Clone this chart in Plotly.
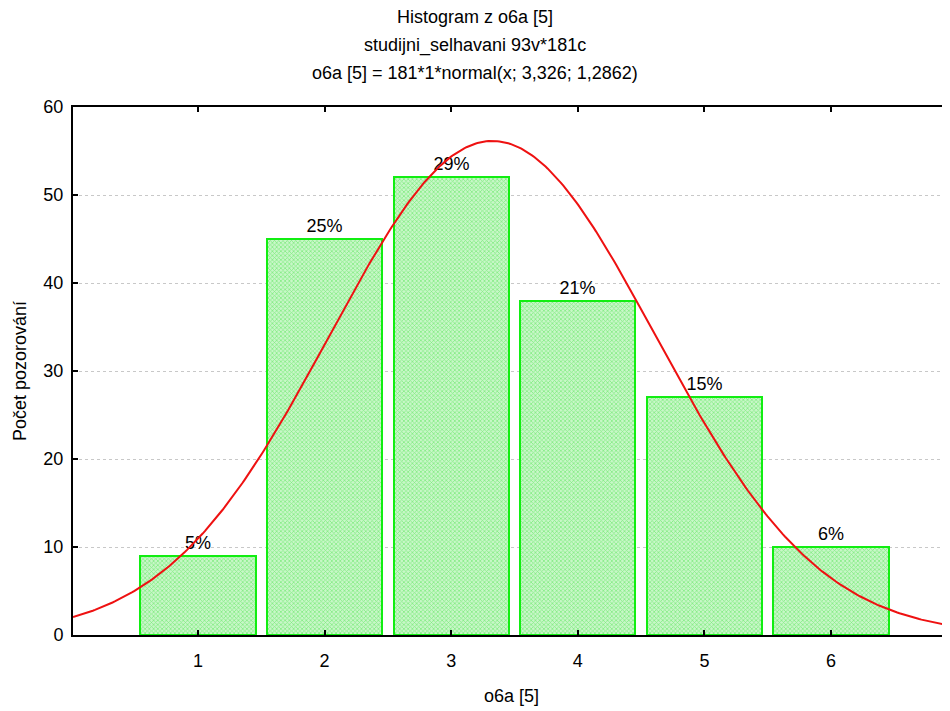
import numpy as np
import plotly.graph_objects as go

categories = [1, 2, 3, 4, 5, 6]
counts = [9, 45, 52, 38, 27, 10]
pct_labels = ["5%", "25%", "29%", "21%", "15%", "6%"]
n_total = 181
fit_mean = 3.326
fit_sd = 1.2862
titles = ["Histogram z o6a [5]", "studijni_selhavani 93v*181c",
          "o6a [5] = 181*1*normal(x; 3,326; 1,2862)"]

x_lo, x_hi = 0.013, 6.94
xs = np.linspace(x_lo, x_hi, 400)
ys = n_total * 1 * np.exp(-0.5 * ((xs - fit_mean) / fit_sd) ** 2) / (fit_sd * np.sqrt(2 * np.pi))

FONT = "Liberation Sans, Arial, sans-serif"
OFF = 8  # page body offset
W, H = 950 - OFF, 711 - OFF
L, T, B = 73 - OFF, 107 - OFF, 76
ph = H - T - B
pw = W - L

fig = go.Figure()
fig.add_trace(go.Bar(
    x=categories, y=counts, width=0.91,
    text=pct_labels, textposition="outside", cliponaxis=False,
    textfont=dict(size=18, color="black", family=FONT),
    marker=dict(color="#b8f3b8",
                line=dict(color="#11ee11", width=2),
                pattern=dict(shape="x", fgcolor="#3fe03f", bgcolor="#c8f7c8", size=3, solidity=0.45)),
    showlegend=False, hoverinfo="skip",
))
fig.add_trace(go.Scatter(x=xs, y=ys, mode="lines",
                         line=dict(color="#ee1111", width=2), showlegend=False, hoverinfo="skip"))

cx = (475 - OFF - L) / pw
for i, t in enumerate(titles):
    fig.add_annotation(text=t, xref="paper", yref="paper", x=cx,
                       y=1 + (107 - 17 - 28 * i) / ph, xanchor="center", yanchor="middle",
                       showarrow=False, font=dict(size=18, color="black", family=FONT))

fig.update_layout(
    width=W, height=H,
    margin=dict(l=L, r=0, t=T, b=B, autoexpand=False),
    plot_bgcolor="white", paper_bgcolor="white",
    font=dict(family=FONT, size=18, color="black"),
    bargap=0,
    xaxis=dict(range=[x_lo, x_hi], tickvals=categories, ticks="inside", ticklen=5, tickwidth=2,
               tickcolor="black", showline=True, linecolor="black", linewidth=2, mirror="ticks",
               showgrid=False, zeroline=False, ticklabelstandoff=8,
               title=dict(text="o6a [5]", font=dict(size=18), standoff=20),
               tickfont=dict(size=18)),
    yaxis=dict(range=[0, 60], tickvals=[0, 10, 20, 30, 40, 50, 60], ticks="inside", ticklen=5,
               tickwidth=2, tickcolor="black", showline=True, linecolor="black", linewidth=2,
               mirror=False, showgrid=True, gridcolor="#c8c8c8", griddash="dot", gridwidth=1,
               zeroline=False, ticklabelstandoff=4,
               title=dict(text="Počet pozorování", font=dict(size=18), standoff=12),
               tickfont=dict(size=18)),
)
fig.write_html("out.html")
